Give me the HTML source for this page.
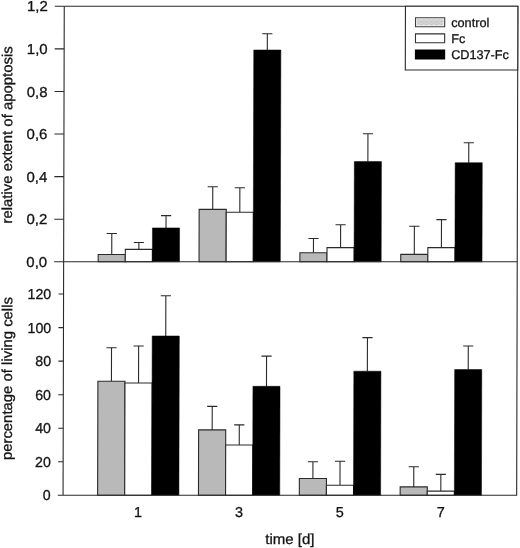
<!DOCTYPE html>
<html><head><meta charset="utf-8"><title>chart</title>
<style>
html,body{margin:0;padding:0;background:#fff;}
svg{display:block;will-change:transform;}
text{font-family:"Liberation Sans",Arial,Helvetica,sans-serif;fill:#141414;stroke:#141414;stroke-width:0.3px;}
</style></head><body>
<svg width="520" height="548" viewBox="0 0 520 548">
<defs><pattern id="ht" width="5" height="3" patternUnits="userSpaceOnUse"><rect width="5" height="3" fill="#d2d2d2"/><rect x="0.4" y="0.3" width="1.6" height="0.9" fill="#b4b4b4"/><rect x="2.8" y="1.6" width="1.5" height="0.9" fill="#bcbcbc"/><rect x="3.4" y="0.2" width="1" height="0.8" fill="#e6e6e6"/><rect x="0.8" y="1.9" width="1.1" height="0.8" fill="#e8e8e8"/></pattern></defs>
<rect width="520" height="548" fill="#fff"/>
<g transform="matrix(1 0 -0.00245 1 0.2744 0)">
<path d="M112.10 254.50V233.50M107.00 233.50H117.20" stroke="#2a2a2a" stroke-width="1.1" fill="none"/>
<rect x="98.55" y="254.50" width="27.10" height="7.30" fill="#b9b9b9" stroke="#2a2a2a" stroke-width="1.1"/>
<path d="M139.20 249.40V242.50M134.10 242.50H144.30" stroke="#2a2a2a" stroke-width="1.1" fill="none"/>
<rect x="125.65" y="249.40" width="27.10" height="12.40" fill="#ffffff" stroke="#2a2a2a" stroke-width="1.1"/>
<path d="M166.30 227.90V215.60M161.20 215.60H171.40" stroke="#2a2a2a" stroke-width="1.1" fill="none"/>
<rect x="152.75" y="227.90" width="27.10" height="33.90" fill="#000000" stroke="#000" stroke-width="0.5"/>
<path d="M212.95 209.40V186.70M207.85 186.70H218.05" stroke="#2a2a2a" stroke-width="1.1" fill="none"/>
<rect x="199.40" y="209.40" width="27.10" height="52.40" fill="#b9b9b9" stroke="#2a2a2a" stroke-width="1.1"/>
<path d="M240.05 212.30V187.70M234.95 187.70H245.15" stroke="#2a2a2a" stroke-width="1.1" fill="none"/>
<rect x="226.50" y="212.30" width="27.10" height="49.50" fill="#ffffff" stroke="#2a2a2a" stroke-width="1.1"/>
<path d="M267.15 50.00V33.80M262.05 33.80H272.25" stroke="#2a2a2a" stroke-width="1.1" fill="none"/>
<rect x="253.60" y="50.00" width="27.10" height="211.80" fill="#000000" stroke="#000" stroke-width="0.5"/>
<path d="M313.80 252.80V238.50M308.70 238.50H318.90" stroke="#2a2a2a" stroke-width="1.1" fill="none"/>
<rect x="300.25" y="252.80" width="27.10" height="9.00" fill="#b9b9b9" stroke="#2a2a2a" stroke-width="1.1"/>
<path d="M340.90 247.60V224.80M335.80 224.80H346.00" stroke="#2a2a2a" stroke-width="1.1" fill="none"/>
<rect x="327.35" y="247.60" width="27.10" height="14.20" fill="#ffffff" stroke="#2a2a2a" stroke-width="1.1"/>
<path d="M368.00 161.60V133.70M362.90 133.70H373.10" stroke="#2a2a2a" stroke-width="1.1" fill="none"/>
<rect x="354.45" y="161.60" width="27.10" height="100.20" fill="#000000" stroke="#000" stroke-width="0.5"/>
<path d="M414.65 254.40V226.20M409.55 226.20H419.75" stroke="#2a2a2a" stroke-width="1.1" fill="none"/>
<rect x="401.10" y="254.40" width="27.10" height="7.40" fill="#b9b9b9" stroke="#2a2a2a" stroke-width="1.1"/>
<path d="M441.75 247.60V219.60M436.65 219.60H446.85" stroke="#2a2a2a" stroke-width="1.1" fill="none"/>
<rect x="428.20" y="247.60" width="27.10" height="14.20" fill="#ffffff" stroke="#2a2a2a" stroke-width="1.1"/>
<path d="M468.85 162.70V142.70M463.75 142.70H473.95" stroke="#2a2a2a" stroke-width="1.1" fill="none"/>
<rect x="455.30" y="162.70" width="27.10" height="99.10" fill="#000000" stroke="#000" stroke-width="0.5"/>
<path d="M112.10 381.26V347.72M107.00 347.72H117.20" stroke="#2a2a2a" stroke-width="1.1" fill="none"/>
<rect x="98.55" y="381.26" width="27.10" height="114.04" fill="#b9b9b9" stroke="#2a2a2a" stroke-width="1.1"/>
<path d="M139.20 382.94V346.05M134.10 346.05H144.30" stroke="#2a2a2a" stroke-width="1.1" fill="none"/>
<rect x="125.65" y="382.94" width="27.10" height="112.36" fill="#ffffff" stroke="#2a2a2a" stroke-width="1.1"/>
<path d="M166.30 335.99V295.74M161.20 295.74H171.40" stroke="#2a2a2a" stroke-width="1.1" fill="none"/>
<rect x="152.75" y="335.99" width="27.10" height="159.31" fill="#000000" stroke="#000" stroke-width="0.5"/>
<path d="M212.95 429.90V406.42M207.85 406.42H218.05" stroke="#2a2a2a" stroke-width="1.1" fill="none"/>
<rect x="199.40" y="429.90" width="27.10" height="65.40" fill="#b9b9b9" stroke="#2a2a2a" stroke-width="1.1"/>
<path d="M240.05 444.99V424.87M234.95 424.87H245.15" stroke="#2a2a2a" stroke-width="1.1" fill="none"/>
<rect x="226.50" y="444.99" width="27.10" height="50.31" fill="#ffffff" stroke="#2a2a2a" stroke-width="1.1"/>
<path d="M267.15 386.30V356.11M262.05 356.11H272.25" stroke="#2a2a2a" stroke-width="1.1" fill="none"/>
<rect x="253.60" y="386.30" width="27.10" height="109.00" fill="#000000" stroke="#000" stroke-width="0.5"/>
<path d="M313.80 478.53V461.76M308.70 461.76H318.90" stroke="#2a2a2a" stroke-width="1.1" fill="none"/>
<rect x="300.25" y="478.53" width="27.10" height="16.77" fill="#b9b9b9" stroke="#2a2a2a" stroke-width="1.1"/>
<path d="M340.90 485.24V461.26M335.80 461.26H346.00" stroke="#2a2a2a" stroke-width="1.1" fill="none"/>
<rect x="327.35" y="485.24" width="27.10" height="10.06" fill="#ffffff" stroke="#2a2a2a" stroke-width="1.1"/>
<path d="M368.00 371.20V337.66M362.90 337.66H373.10" stroke="#2a2a2a" stroke-width="1.1" fill="none"/>
<rect x="354.45" y="371.20" width="27.10" height="124.10" fill="#000000" stroke="#000" stroke-width="0.5"/>
<path d="M414.65 486.92V466.79M409.55 466.79H419.75" stroke="#2a2a2a" stroke-width="1.1" fill="none"/>
<rect x="401.10" y="486.92" width="27.10" height="8.38" fill="#b9b9b9" stroke="#2a2a2a" stroke-width="1.1"/>
<path d="M441.75 491.11V474.34M436.65 474.34H446.85" stroke="#2a2a2a" stroke-width="1.1" fill="none"/>
<rect x="428.20" y="491.11" width="27.10" height="4.19" fill="#ffffff" stroke="#2a2a2a" stroke-width="1.1"/>
<path d="M468.85 369.52V346.05M463.75 346.05H473.95" stroke="#2a2a2a" stroke-width="1.1" fill="none"/>
<rect x="455.30" y="369.52" width="27.10" height="125.78" fill="#000000" stroke="#000" stroke-width="0.5"/>
<path d="M64.0 6.25H517.6V495.3H58.8M64.0 6.25V495.3M54.5 261.8H517.6" stroke="#2a2a2a" stroke-width="1.1" fill="none"/>
<path d="M54.5 219.21H64.0M54.5 176.62H64.0M54.5 134.02H64.0M54.5 91.43H64.0M54.5 48.84H64.0M54.5 6.25H64.0M59.0 461.76H64.0M59.0 428.22H64.0M59.0 394.68H64.0M59.0 361.14H64.0M59.0 327.60H64.0M59.0 294.06H64.0" stroke="#2a2a2a" stroke-width="1.1" fill="none"/>
<text transform="translate(47.50 267.00) scale(1.04 1)" text-anchor="end" font-size="14.4">0,0</text>
<text transform="translate(47.50 224.41) scale(1.04 1)" text-anchor="end" font-size="14.4">0,2</text>
<text transform="translate(47.50 181.82) scale(1.04 1)" text-anchor="end" font-size="14.4">0,4</text>
<text transform="translate(47.50 139.22) scale(1.04 1)" text-anchor="end" font-size="14.4">0,6</text>
<text transform="translate(47.50 96.63) scale(1.04 1)" text-anchor="end" font-size="14.4">0,8</text>
<text transform="translate(47.50 54.04) scale(1.04 1)" text-anchor="end" font-size="14.4">1,0</text>
<text transform="translate(47.50 11.45) scale(1.04 1)" text-anchor="end" font-size="14.4">1,2</text>
<text transform="translate(51.70 500.30) scale(0.985 1)" text-anchor="end" font-size="14.4">0</text>
<text transform="translate(51.70 466.76) scale(0.985 1)" text-anchor="end" font-size="14.4">20</text>
<text transform="translate(51.70 433.22) scale(0.985 1)" text-anchor="end" font-size="14.4">40</text>
<text transform="translate(51.70 399.68) scale(0.985 1)" text-anchor="end" font-size="14.4">60</text>
<text transform="translate(51.70 366.14) scale(0.985 1)" text-anchor="end" font-size="14.4">80</text>
<text transform="translate(51.70 332.60) scale(0.985 1)" text-anchor="end" font-size="14.4">100</text>
<text transform="translate(51.70 299.06) scale(0.985 1)" text-anchor="end" font-size="14.4">120</text>
<text transform="translate(139.10 516.80) scale(1.0 1)" text-anchor="middle" font-size="14.4">1</text>
<text transform="translate(239.95 516.80) scale(1.0 1)" text-anchor="middle" font-size="14.4">3</text>
<text transform="translate(340.80 516.80) scale(1.0 1)" text-anchor="middle" font-size="14.4">5</text>
<text transform="translate(441.65 516.80) scale(1.0 1)" text-anchor="middle" font-size="14.4">7</text>
<text transform="translate(290.90 543.90) scale(1.03 1)" text-anchor="middle" font-size="14.6">time [d]</text>
<text transform="translate(12.20 134.90) rotate(-90) scale(1.028 1)" text-anchor="middle" font-size="14.5">relative extent of apoptosis</text>
<text transform="translate(12.70 378.60) rotate(-90) scale(1.028 1)" text-anchor="middle" font-size="14.5">percentage of living cells</text>
<rect x="405.2" y="6.25" width="112.40000000000003" height="63.75" fill="#fff" stroke="#2a2a2a" stroke-width="1.1"/>
<rect x="415.3" y="17.8" width="29.2" height="8.9" fill="#f4f4f4" stroke="#3a3a3a" stroke-width="1.1"/>
<rect x="416.6" y="19.2" width="26.6" height="6.1" fill="url(#ht)"/>
<rect x="415.3" y="33.9" width="29.2" height="8.9" fill="#fff" stroke="#333" stroke-width="1.1"/>
<rect x="415.3" y="50.1" width="29.2" height="8.9" fill="#000" stroke="#000" stroke-width="1.1"/>
<text transform="translate(451.00 26.80) scale(1.0 1)" text-anchor="start" font-size="12.7">control</text>
<text transform="translate(451.00 43.00) scale(1.0 1)" text-anchor="start" font-size="12.7">Fc</text>
<text transform="translate(451.00 59.20) scale(1.0 1)" text-anchor="start" font-size="12.7">CD137-Fc</text>
</g>
</svg>
</body></html>
